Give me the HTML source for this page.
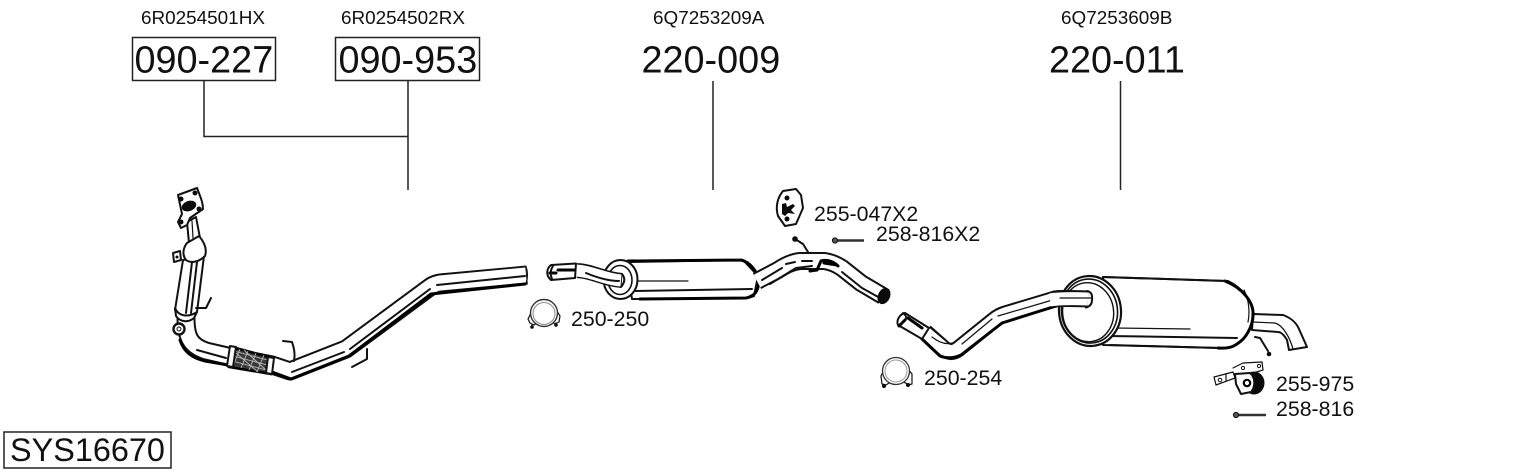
<!DOCTYPE html>
<html><head><meta charset="utf-8"><style>
html,body{margin:0;padding:0;background:#fff;width:1530px;height:474px;overflow:hidden}
svg{display:block}
text{font-family:"Liberation Sans",Arial,sans-serif;fill:#111}
.l{fill:none;stroke:#111;stroke-width:2;stroke-linecap:round;stroke-linejoin:round}
.t{fill:none;stroke:#111;stroke-width:1.2;stroke-linecap:round;stroke-linejoin:round}
.h{fill:none;stroke:#000;stroke-width:3;stroke-linecap:round;stroke-linejoin:round}
.w{fill:#fff;stroke:#111;stroke-width:2;stroke-linejoin:round}
.k{fill:#0a0a0a}
.bo{fill:none;stroke:#111;stroke-linecap:butt;stroke-linejoin:round}
.wi{fill:none;stroke:#fff;stroke-linecap:butt;stroke-linejoin:round}
</style></head><body>
<svg width="1530" height="474" viewBox="0 0 1530 474" xmlns="http://www.w3.org/2000/svg">
<text x="141" y="24" font-size="18.9">6R0254501HX</text>
<text x="341" y="24" font-size="18.9">6R0254502RX</text>
<text x="653" y="24" font-size="18.9">6Q7253209A</text>
<text x="1061" y="24" font-size="18.9">6Q7253609B</text>
<rect x="132.500" y="37.500" width="143" height="43" fill="#fff" stroke="#222" stroke-width="1.5"/>
<rect x="335.500" y="37.500" width="144" height="43" fill="#fff" stroke="#222" stroke-width="1.5"/>
<text x="134.500" y="72.500" font-size="37.800">090-227</text>
<text x="338.500" y="72.500" font-size="37.800">090-953</text>
<text x="641.500" y="72.500" font-size="37.800">220-009</text>
<text x="1049" y="72.500" font-size="37.800">220-011</text>
<path d="M204 81V136.500H408M408 81V190M713 81V190M1120.500 81V190" fill="none" stroke="#222" stroke-width="1.500"/>
<text x="571" y="326" font-size="21.300">250-250</text>
<text x="814" y="221" font-size="21.300">255-047X2</text>
<text x="876" y="241" font-size="21.300">258-816X2</text>
<text x="924" y="385" font-size="21.300">250-254</text>
<text x="1276" y="391" font-size="21.300">255-975</text>
<text x="1276" y="416" font-size="21.300">258-816</text>
<rect x="4" y="432" width="167" height="36" fill="#fff" stroke="#222" stroke-width="1.500"/>
<text x="10" y="461" font-size="32.400">SYS16670</text>

<!-- FRONT PIPE -->
<path class="bo" stroke-width="19" d="M186 318C186 338 191 346 206 351L232 357L272 365L290 371L346 349L430 287Q434 284 440 283L527 275"/>
<path class="wi" stroke-width="15" d="M186 318C186 338 191 346 206 351L232 357L272 365L290 371L346 349L430 287Q434 284 440 283L526 275"/>
<path class="t" stroke-width="2" d="M526 266.500Q529 275 526 283.500"/>
<path class="l" d="M292 372L344 352M350 349L430 289M437 285L525 276M197 350L226 358"/>
<path class="h" d="M180 340C184 352 192 358 205 361L228 365M272 372L291 379L349 356L431 294L525 284" stroke-width="2.600"/>
<path class="l" d="M283 341L292 342C295 350 295 356 294 361M352 367L367 359L367 349" stroke-width="2"/>
<!-- flex -->
<path d="M232 347L273 358L271 374L229 367Z" fill="#3a3a3a" stroke="#000" stroke-width="2.500"/>
<path d="M234 351L271 361M233 356L271 366M232 361L270 371M240 349L233 366M248 351L241 368M256 353L249 370M264 355L257 372M236 353L258 372M244 350L268 372" stroke="#bbb" stroke-width=".9" fill="none"/>
<path class="w" d="M230 346L236 347L233 367L227 366Z"/>
<path class="w" d="M268 357L274 358L272 374L266 373Z"/>
<!-- catalyst -->
<path class="w" d="M183 260L204 256L197 312L193 318L180 319L175 310Z"/>
<path class="l" d="M192 262L186 313M197 262L191 313" stroke-width="1.300"/>
<path class="w" d="M175 308C178 316 188 318 197 312L194 318C188 323 180 322 176 316Z"/>
<path class="w" d="M187 222L196 217L200 238L189 243Z"/>
<path class="w" d="M187 243L199 236C205 243 207 250 205 256C198 263 190 263 186 260C182 255 183 248 187 243Z"/>
<path class="t" d="M192 221L193 238"/>
<path class="l" d="M196 308L206 308L211 298"/>
<path class="w" stroke-width="1.600" d="M173 253L180 251L181 260L174 262Z"/><circle cx="177" cy="257" r="1.500" class="k"/>
<!-- flange -->
<path class="w" stroke-width="3" d="M178 195L197 188C200 196 203 202 203 209L190 218L187 225L181 228L178 222L182 214Z"/>
<ellipse cx="189" cy="206" rx="7.500" ry="5" transform="rotate(-20 189 206)" class="k"/>
<circle cx="181" cy="199" r="2.500" class="k"/><circle cx="195" cy="193" r="2.500" class="k"/><circle cx="199" cy="209" r="2.500" class="k"/><circle cx="181" cy="222" r="2.500" class="k"/>
<circle cx="179" cy="329" r="5.500" fill="#fff" stroke="#111" stroke-width="2.400"/>
<circle cx="179" cy="329" r="2" fill="none" stroke="#111" stroke-width="1"/>

<!-- MIDDLE -->
<path class="w" d="M743 260L758 276L754 296L748 298L632 299L626 262Z"/>
<path class="t" d="M636 281L688 281"/>
<path class="l" d="M632 291L752 289" stroke-width="1.500"/>
<path class="h" d="M741 260C750 262 758 272 759 282C758 291 755 296 746 298L640 299M628 261L741 260"/>
<ellipse cx="620.500" cy="279.500" rx="17" ry="19.500" class="w" stroke-width="2.400"/>
<ellipse cx="620" cy="280" rx="12" ry="14.500" fill="#fff" stroke="#111" stroke-width="1.600"/>
<path class="bo" stroke-width="15" d="M577 270.500C592 271 603 279 622 280.500"/>
<path class="wi" stroke-width="12" d="M575 270.500C592 271 603 279 621 280.500"/>
<path class="l" d="M622 274Q627 280 621 287" stroke-width="2"/>
<path class="l" d="M586 273C598 278 608 281 619 281" stroke-width="1.500"/>
<path class="w" d="M551 265L576 263.500L575 278L551 280C546 276 546 269 551 265Z"/>
<path class="h" d="M558 270L574 270M550 273L556 273" stroke-width="2.500"/>
<path class="l" d="M553 266Q549 272 552 279" stroke-width="1.600"/>
<path class="bo" stroke-width="18" d="M757 281L778 270Q790 262 800 261L824 261Q833 262 842 268L861 283L883 296"/>
<path class="wi" stroke-width="14" d="M757 281L778 270Q790 262 800 261L824 261Q833 262 842 268L861 283L883 296"/>
<path class="l" d="M762 280L782 268M786 264L795 262M802 261L812 261" stroke-width="1.500"/>
<path class="l" d="M770 284L796 268L812 266" stroke-width="2.400"/>
<path class="h" d="M817 270L821 261C828 259 834 262 838 266" stroke-width="3.400"/>
<path class="h" d="M810 271L817 270M824 263L837 265"/>
<path class="l" d="M842 272L862 288L880 298" stroke-width="1.300"/>
<ellipse cx="884" cy="296" rx="6" ry="8.500" transform="rotate(25 884 296)" class="k"/>
<path class="t" stroke="#fff" d="M887 289Q891 294 888 300"/>
<path class="l" d="M795 239L803 244L808 252" stroke-width="2"/><circle cx="795" cy="239" r="2.800" class="k"/>
<!-- hanger -->
<path class="w" stroke-width="3" d="M783 191L796 189L801 195L803 208L796 224L785 226L778 216C775 206 778 197 783 191Z"/>
<circle cx="787" cy="198" r="2.500" class="k"/><circle cx="787" cy="219" r="2.500" class="k"/>
<path d="M782 204L786 203L787 207L793 204L795 206L791 210L795 214L788 213L785 216L782 214Z" class="k"/>
<!-- bolts -->
<path d="M836 240.500H864" stroke="#333" stroke-width="2.400"/><circle cx="835" cy="240.500" r="2.600" fill="#555" stroke="#111"/>
<path d="M1236 415H1266" stroke="#333" stroke-width="2.400"/><circle cx="1236" cy="415" r="2.600" fill="#555" stroke="#111"/>
<!-- clamp 250-250 -->
<path class="t" d="M531 313L528 319L530 323L534 325C540 320 550 320 555 324L559 322L560 316L557 311"/>
<circle cx="544" cy="313" r="13.500" fill="#fff" stroke="#333" stroke-width="1.400"/>
<circle cx="544" cy="313.500" r="11" fill="#fff" stroke="#888" stroke-width="1"/>
<circle cx="532" cy="327" r="1.800" class="k"/><circle cx="556" cy="325" r="1.800" class="k"/>
<path class="t" d="M532 325V327M556 323V325"/>

<!-- REAR -->
<path class="w" d="M1253 314L1283 315C1291 318 1296 322 1299 329L1307 347L1289 350L1287 340C1284 335 1281 332 1278 332L1252 330Z"/>
<path class="t" d="M1252 322L1275 323C1283 325 1290 338 1293 349"/>
<path class="bo" stroke-width="17" d="M925 332L942 347Q950 355 958 349L994 320Q999 316 1005 314L1055 299Q1062 298 1090 299"/>
<path class="wi" stroke-width="13" d="M923 331L942 347Q950 355 958 349L994 320Q999 316 1005 314L1055 299Q1062 298 1090 299"/>
<path class="t" d="M932 337Q945 347 955 342M962 344L992 319M998 316L1056 299" stroke-width="1.400"/>
<path class="h" d="M922 339L940 356Q950 360 961 355L1002 323L1056 306"/>
<path class="w" d="M905 313L929 328L922 339L898 325C896 320 900 314 905 313Z"/>
<path class="h" d="M908 318L922 328M899 326L905 320" stroke-width="2.400"/>
<path class="l" d="M903 313Q907 316 906 319" stroke-width="1.400"/>
<!-- rear silencer -->
<path class="w" d="M1103 277L1228 281C1243 288 1254 303 1253 315C1253 325 1247 336 1241 341C1235 346 1230 349 1222 348L1103 345Z"/>
<path class="t" d="M1244 290C1249 300 1250 312 1248 322"/>
<path class="t" d="M1113 328L1190 329"/>
<path class="l" d="M1108 336L1237 338" stroke-width="1.600"/>
<path class="h" d="M1225 281C1243 288 1254 303 1253 315C1253 325 1247 336 1241 341C1235 346 1230 349 1218 348"/>
<path class="l" d="M1110 345L1218 348M1103 277L1225 281"/>
<ellipse cx="1090" cy="311" rx="31" ry="35" fill="#fff" stroke="#111" stroke-width="2.200" transform="rotate(-6 1090 311)"/>
<ellipse cx="1089.500" cy="311" rx="28" ry="32" fill="#fff" stroke="#111" stroke-width="1.600" transform="rotate(-6 1090 311)"/>
<ellipse cx="1088" cy="312" rx="25.500" ry="29.500" fill="#fff" stroke="#111" stroke-width="1.400" transform="rotate(-6 1090 311)"/>
<path class="bo" stroke-width="17" d="M1054 299Q1062 298 1088 299"/>
<path class="wi" stroke-width="13" d="M1050 300Q1062 298 1088 299"/>
<path class="l" d="M1087 291Q1093 292 1092 300Q1092 306 1086 307.500" stroke-width="2.200"/>
<path class="t" d="M1060 298L1092 298" stroke-width="1.300"/>
<path class="l" d="M1255 337L1260 338L1268 351" stroke-width="1.800"/><circle cx="1269" cy="354" r="2.300" class="k"/>
<!-- clamp 250-254 -->
<path class="t" d="M884 370L881 376L882 384L886 385C892 380 904 380 908 385L912 384L912 374L908 369"/>
<circle cx="896" cy="371" r="13.500" fill="#fff" stroke="#333" stroke-width="1.300"/>
<circle cx="896" cy="371" r="11" fill="#fff" stroke="#999" stroke-width="1"/>
<circle cx="884" cy="386" r="2" class="k"/><circle cx="908" cy="385" r="2" class="k"/>
<!-- bracket 255-975 -->
<path class="t" stroke-width="1.500" d="M1214 377L1233 372L1235 378L1216 385Z"/>
<circle cx="1220" cy="380" r="1.800" fill="none" stroke="#111"/><path class="t" d="M1226 374V381"/>
<path class="t" stroke-width="1.700" d="M1233 368L1243 363L1262 362L1263 370L1250 374"/>
<circle cx="1243" cy="368" r="1.600" fill="none" stroke="#111"/><circle cx="1259" cy="366" r="1.600" fill="none" stroke="#111"/>
<ellipse cx="1254" cy="383" rx="10.500" ry="11.500" class="k"/>
<path class="w" stroke-width="1.500" d="M1235 374L1250 373C1255 377 1256 386 1251 392L1241 394L1236 384Z"/>
<circle cx="1247" cy="383" r="3.200" fill="#fff" stroke="#000" stroke-width="2.200"/>
</svg>
</body></html>
